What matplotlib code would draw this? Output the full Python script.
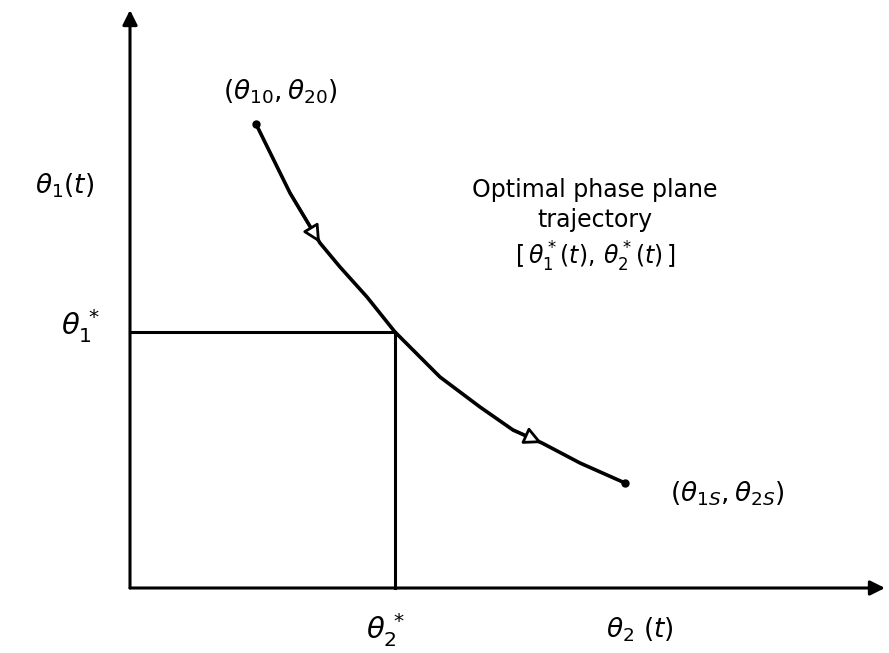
import numpy as np
import matplotlib.pyplot as plt

# trajectory (origin at the axes corner)
traj_x = [126, 160, 190, 210, 237, 265, 310, 350, 383, 412, 450, 495]
traj_y = [464, 395, 345, 321, 291, 256, 211, 181, 158, 145, 125, 105]

# optimal point (theta_2*, theta_1*)
opt_x = 265
opt_y = 256

# axis extents
x_end = 755
y_end = 578

start_label = r'$(\theta_{10}, \theta_{20})$'
end_label = r'$(\theta_{1S}, \theta_{2S})$'
traj_label = 'Optimal phase plane\ntrajectory\n' + r'$[\,\theta_1^*(t),\,\theta_2^*(t)\,]$'

fig = plt.figure(figsize=(8.89, 6.53), dpi=100)
ax = fig.add_axes([0, 0, 1, 1])
ax.set_xlim(-130, 759)
ax.set_ylim(-65, 588)
ax.axis('off')

lw = 2.2
# axes with arrowheads
ax.annotate('', xy=(x_end, 0), xytext=(0, 0),
            arrowprops=dict(arrowstyle='-|>', color='black', lw=lw,
                            mutation_scale=22, shrinkA=0, shrinkB=0))
ax.annotate('', xy=(0, y_end), xytext=(0, 0),
            arrowprops=dict(arrowstyle='-|>', color='black', lw=lw,
                            mutation_scale=22, shrinkA=0, shrinkB=0))

# guide lines to the optimal point
ax.plot([0, opt_x], [opt_y, opt_y], color='black', lw=lw)
ax.plot([opt_x, opt_x], [0, opt_y], color='black', lw=lw)

# trajectory
ax.plot(traj_x, traj_y, color='black', lw=lw + 0.4, solid_capstyle='round',
        solid_joinstyle='round')
ax.plot([traj_x[0], traj_x[-1]], [traj_y[0], traj_y[-1]], 'o',
        color='black', ms=5)

# direction arrows on the trajectory
for i in (2, 9):
    ax.annotate('', xy=(traj_x[i], traj_y[i]),
                xytext=(traj_x[i - 1], traj_y[i - 1]),
                arrowprops=dict(arrowstyle='-|>', color='black', lw=2,
                                mutation_scale=26, fc='white',
                                shrinkA=0, shrinkB=0))

fs = 19
ax.text(-65, 402, r'$\theta_1(t)$', fontsize=fs, ha='center', va='center')
ax.text(-50, 262, r'$\theta_1^{\,*}$', fontsize=fs + 2, ha='center', va='center')
ax.text(opt_x - 10, -42, r'$\theta_2^{\,*}$', fontsize=fs + 2, ha='center', va='center')
ax.text(510, -42, r'$\theta_2\ (t)$', fontsize=fs, ha='center', va='center')
ax.text(150, 496, start_label, fontsize=fs, ha='center', va='center')
ax.text(597, 94, end_label, fontsize=fs, ha='center', va='center')
ax.text(465, 362, traj_label, fontsize=17, ha='center', va='center',
        linespacing=1.3)

fig.savefig('out.png', dpi=100)
